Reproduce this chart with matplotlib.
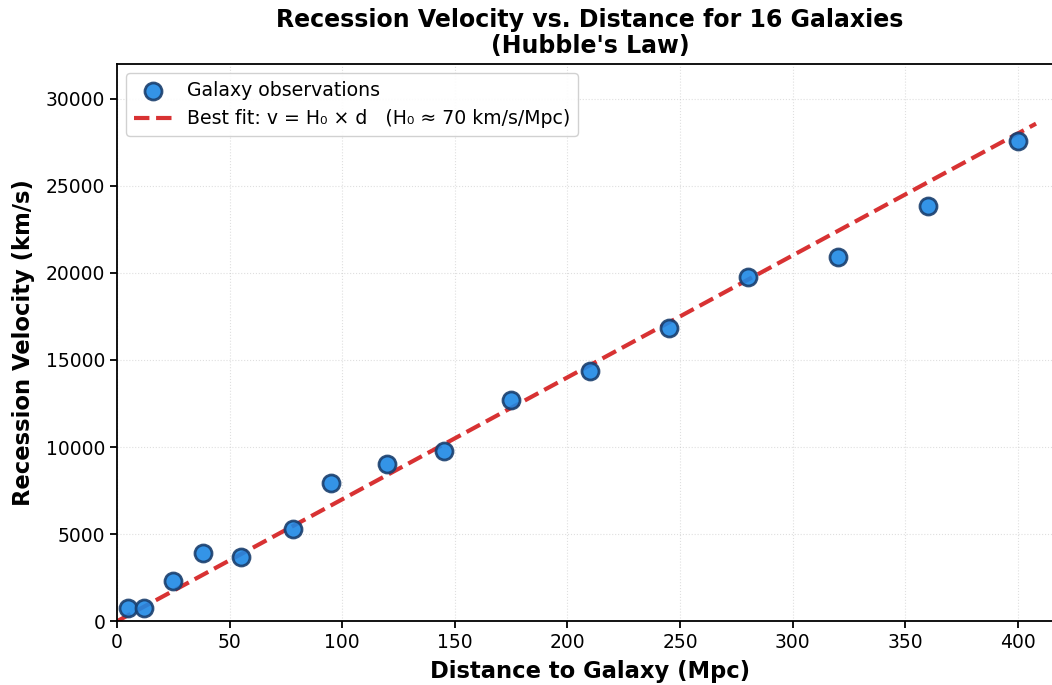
import numpy as np
import matplotlib
matplotlib.use("Agg")
import matplotlib.pyplot as plt

# galaxy distances (Mpc) and recession velocities (km/s)
distance = [5, 12, 25, 38, 55, 78, 95, 120, 145, 175, 210, 245, 280, 320, 360, 400]
velocity = [750, 750, 2300, 3900, 3680, 5290, 7930, 9020, 9770, 12700, 14370, 16840, 19770, 20920, 23850, 27590]
H0 = 70

fig = plt.figure(figsize=(10.52, 6.85), dpi=100)
# axes runs a little past the right edge of the picture, like a cropped original
ax = fig.add_axes([0.1112, 0.093, 0.8993, 0.814])

ax.scatter(distance, velocity, s=150, color="#1e88e5", edgecolor="#1a3f6e",
           linewidth=2, alpha=0.9, zorder=3, label="Galaxy observations")

d_fit = np.linspace(0, max(distance) * 1.02, 100)
ax.plot(d_fit, H0 * d_fit, "--", color="#d62728", lw=3, alpha=0.95, zorder=2,
        label="Best fit: v = H\u2080 \u00d7 d   (H\u2080 \u2248 70 km/s/Mpc)")

ax.set_xlim(0, 420)
ax.set_ylim(0, 32000)
ax.set_xlabel("Distance to Galaxy (Mpc)", fontsize=16.3, fontweight="bold", labelpad=6)
ax.set_ylabel("Recession Velocity (km/s)", fontsize=16.3, fontweight="bold", labelpad=8)
ax.set_title("Recession Velocity vs. Distance for 16 Galaxies\n(Hubble's Law)",
             fontsize=17, fontweight="bold", linespacing=1.1, pad=8)
ax.tick_params(labelsize=13.5, width=1.3, length=5)
for sp in ax.spines.values():
    sp.set_linewidth(1.3)
ax.grid(True, linestyle=":", alpha=0.4)
ax.legend(loc="upper left", fontsize=13.6, framealpha=0.9)

fig.savefig("out.png", dpi=100)
